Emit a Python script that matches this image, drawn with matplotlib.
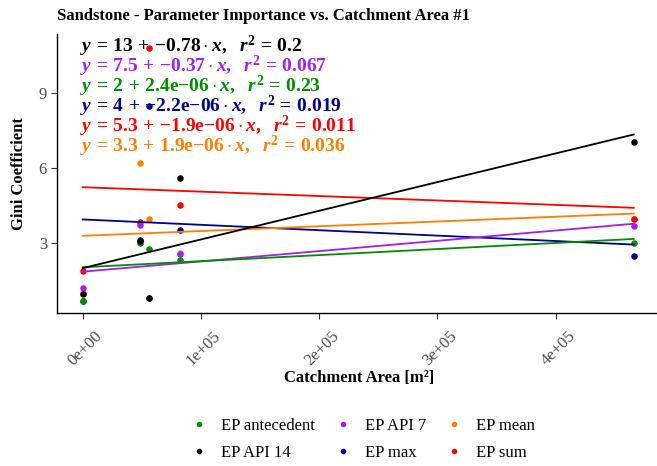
import numpy as np
import matplotlib.pyplot as plt
import matplotlib.transforms as mtransforms
from matplotlib.lines import Line2D

# ===== data =====
catchment_area = [0, 48500, 56300, 82300, 466000]

series_names = ["EP antecedent", "EP API 14", "EP API 7", "EP max", "EP mean", "EP sum"]
series_colors = ["#008B00", "#000000", "#A020F0", "#00008B", "#FF7F00", "#FF0000"]

ep_antecedent = [0.70, 3.00, 2.76, 2.33, 3.00]
ep_api14 = [0.96, 3.09, 0.82, 5.60, 7.05]
ep_api7 = [1.20, 3.73, 0.82, 2.56, 3.70]
ep_max = [0.68, 3.15, 8.49, 3.54, 2.50]
ep_mean = [1.00, 6.20, 3.96, 2.60, 3.98]
ep_sum = [1.89, 3.87, 10.80, 4.53, 3.97]

equations = [
    r"$y\,=\,13\,+\,{-}0.78 \cdot x,\ \ r^2\,=\,0.2$",
    r"$y\,=\,7.5\,+\,{-}0.37 \cdot x,\ \ r^2\,=\,0.067$",
    r"$y\,=\,2\,+\,2.4\mathrm{e}{-}06 \cdot x,\ \ r^2\,=\,0.23$",
    r"$y\,=\,4\,+\,{-}2.2\mathrm{e}{-}06 \cdot x,\ \ r^2\,=\,0.019$",
    r"$y\,=\,5.3\,+\,{-}1.9\mathrm{e}{-}06 \cdot x,\ \ r^2\,=\,0.011$",
    r"$y\,=\,3.3\,+\,1.9\mathrm{e}{-}06 \cdot x,\ \ r^2\,=\,0.036$",
]
eq_colors = ["#000000", "#A020F0", "#008B00", "#00008B", "#FF0000", "#FF7F00"]

x_ticks = [0, 1e5, 2e5, 3e5, 4e5]
x_tick_labels = ["0e+00", "1e+05", "2e+05", "3e+05", "4e+05"]
y_ticks = [3, 6, 9]

series_values = [ep_antecedent, ep_api14, ep_api7, ep_max, ep_mean, ep_sum]

# ===== style =====
plt.rcParams["font.family"] = ["Liberation Serif", "DejaVu Serif"]
plt.rcParams["mathtext.fontset"] = "custom"
plt.rcParams["mathtext.rm"] = "Liberation Serif:bold"
plt.rcParams["mathtext.it"] = "Liberation Serif:italic:bold"
plt.rcParams["mathtext.bf"] = "Liberation Serif:bold"

fig = plt.figure(figsize=(6.57, 4.66), dpi=100)
ax = fig.add_axes([0.0875, 0.329, 0.9186, 0.598])

x = np.array(catchment_area, dtype=float)

# draw order so that overlapped points hide like in the reference
draw_order = [3, 4, 5, 2, 0, 1]
for i in draw_order:
    ax.scatter(x, series_values[i], s=22, color=series_colors[i], zorder=2, linewidths=0)

for i in draw_order:
    k, b = np.polyfit(x, series_values[i], 1)
    xx = np.array([x.min(), x.max()])
    ax.plot(xx, b + k * xx, color=series_colors[i], lw=1.3, zorder=3)

# equation labels
eq_top = 10.86
eq_step = 0.80
for j, (txt, col) in enumerate(zip(equations, eq_colors)):
    ax.text(-2500, eq_top - j * eq_step, txt, color=col, fontsize=14,
            ha="left", va="center", zorder=4)

ax.set_xlim(-21310, 489050)
ax.set_ylim(0.224, 11.37)

ax.set_xticks(x_ticks)
ax.set_xticklabels(x_tick_labels, rotation=45, ha="right", va="top",
                   rotation_mode="anchor")
ax.set_yticks(y_ticks)
ax.set_yticklabels([str(v) for v in y_ticks])
ax.tick_params(axis="both", colors="#333333", length=4, width=0.8,
               labelsize=12, labelcolor="#4D4D4D")
shift = mtransforms.ScaledTranslation(12 / 100, -5 / 100, fig.dpi_scale_trans)
for lab in ax.get_xticklabels():
    lab.set_transform(lab.get_transform() + shift)

for s in ["top", "right"]:
    ax.spines[s].set_visible(False)
for s in ["left", "bottom"]:
    ax.spines[s].set_color("black")
    ax.spines[s].set_linewidth(1.0)

ax.set_xlabel("Catchment Area [m²]", fontsize=12, fontweight="bold")
ax.xaxis.set_label_coords(0.5, -0.207)
ax.set_ylabel("Gini Coefficient", fontsize=12, fontweight="bold")
ax.yaxis.set_label_coords(-0.050, 0.5)

fig.text(57 / 657, 1 - 16 / 466, "Sandstone - Parameter Importance vs. Catchment Area #1",
         fontsize=12, fontweight="bold", ha="left", va="center")

handles = [Line2D([], [], marker="o", ls="", markersize=4, color=c,
                  markeredgewidth=0) for c in series_colors]
fig.legend(handles, series_names, ncol=3, loc="center",
           bbox_to_anchor=(363 / 657, 1 - 439.5 / 466), frameon=False,
           fontsize=12, handlelength=1.0, handletextpad=0.8,
           columnspacing=1.2, labelspacing=0.65)

plt.savefig("out.png", dpi=100)
plt.close()
